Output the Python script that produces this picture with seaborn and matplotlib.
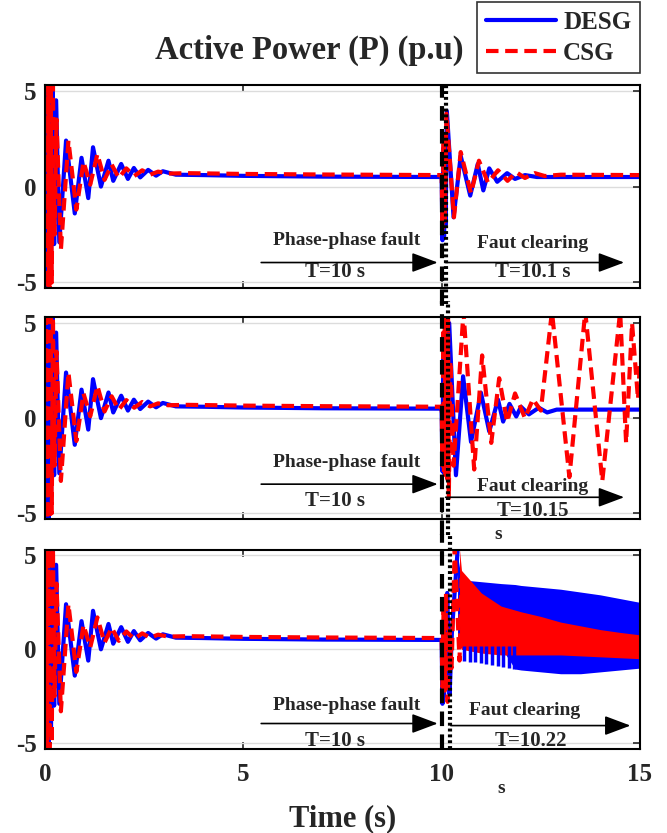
import numpy as np
import pandas as pd
import matplotlib
matplotlib.use('Agg')
import matplotlib.pyplot as plt
import seaborn as sns

# ---- data (time in s, active power in p.u) ----
# start-up transient, identical in all three cases
pre_desg_t = [0.0, 0.03, 0.06, 0.09, 0.12, 0.15, 0.19, 0.23, 0.28, 0.36, 0.53, 0.75, 0.92, 1.09, 1.21,
              1.41, 1.6, 1.72, 1.92, 2.09, 2.24, 2.4, 2.6, 2.8, 2.97, 3.3, 4.0, 5.0, 7.0, 10.0]
pre_desg_p = [0.0, -5.3, 5.3, -5.3, 5.3, -4.5, 5.3, -3.0, 4.5, -2.9, 2.4, -1.4, 1.5, -0.6, 2.05,
              0.0, 1.35, 0.3, 1.18, 0.4, 0.97, 0.48, 0.87, 0.57, 0.8, 0.62, 0.6, 0.56, 0.52, 0.5]
pre_csg_t = [0.0, 0.02, 0.05, 0.08, 0.11, 0.14, 0.17, 0.2, 0.24, 0.29, 0.4, 0.59, 0.79, 0.97, 1.14,
             1.32, 1.5, 1.68, 1.86, 2.05, 2.25, 2.45, 2.65, 2.85, 3.1, 3.6, 5.0, 7.0, 10.0]
pre_csg_p = [0.0, 5.3, -5.3, 5.3, -5.3, 5.3, -5.0, 5.3, -2.5, 3.5, -3.3, 2.4, -1.2, 1.3, 0.1,
             1.7, 0.35, 1.15, 0.45, 0.95, 0.55, 0.85, 0.62, 0.78, 0.68, 0.7, 0.66, 0.63, 0.6]

# case 1: clearing at 10.1 s
c1_desg_t = [10.0, 10.02, 10.04, 10.06, 10.08, 10.1, 10.13, 10.3, 10.48, 10.72, 10.91, 11.05, 11.2,
             11.4, 11.65, 11.85, 12.1, 12.4, 13.0, 15.0]
c1_desg_p = [0.5, -2.8, 2.0, -2.6, 2.5, -2.0, 3.95, -1.6, 1.6, -0.47, 1.18, -0.2, 0.95,
             0.25, 0.7, 0.4, 0.6, 0.5, 0.5, 0.5]
c1_csg_t = [10.0, 10.02, 10.05, 10.08, 10.12, 10.31, 10.48, 10.74, 10.94, 11.17, 11.42, 11.66, 11.88,
            12.1, 12.35, 12.6, 13.0, 15.0]
c1_csg_p = [0.6, -2.2, 2.5, -1.8, 3.8, -1.6, 1.8, -0.35, 1.35, 0.2, 0.85, 0.3, 0.75,
            0.45, 0.7, 0.55, 0.62, 0.6]

# case 2: clearing at 10.15 s
c2_desg_t = [10.0, 10.02, 10.04, 10.06, 10.08, 10.1, 10.12, 10.15, 10.19, 10.36, 10.54, 10.74, 10.99,
             11.2, 11.42, 11.55, 11.71, 11.88, 12.0, 12.2, 12.45, 12.66, 12.9, 15.0]
c2_desg_p = [0.45, -2.8, 3.5, -2.9, 4.5, -2.5, 5.2, -2.0, 5.0, -3.0, 2.2, -1.25, 1.34,
             -0.7, 0.98, -0.18, 0.75, 0.09, 0.6, 0.2, 0.55, 0.3, 0.45, 0.45]
c2_csg_t = [10.0, 10.02, 10.04, 10.06, 10.08, 10.1, 10.12, 10.14, 10.16, 10.18, 10.22, 10.3, 10.55,
            10.82, 11.02, 11.25, 11.45, 11.65, 11.85, 12.1, 12.3, 12.5, 12.78, 13.22, 13.62, 14.05,
            14.5, 14.65, 14.8, 14.95, 15.0]
c2_csg_p = [0.6, -2.5, 4.5, -3.0, 5.3, -3.0, 5.5, -3.2, 5.5, -4.2, 3.0, -2.5, 5.6,
            -2.7, 3.3, -1.3, 2.1, -0.2, 1.3, 0.0, 1.0, 0.4, 5.6, -3.1, 5.6, -3.3,
            5.6, -1.3, 5.0, 1.0, 3.0]

# case 3: clearing at 10.22 s (sustained oscillation -> envelopes)
c3_desg_t = [10.0, 10.02, 10.04, 10.06, 10.08, 10.1, 10.14, 10.2, 10.26, 10.4]
c3_desg_p = [0.5, -2.9, 1.5, -2.5, 2.5, -2.0, 3.0, -2.4, 1.0, 5.2]
c3_csg_t = [10.0, 10.02, 10.05, 10.08, 10.11, 10.15, 10.2, 10.25, 10.33, 10.45, 10.5]
c3_csg_p = [0.6, -2.0, 2.5, -2.2, 3.0, -2.8, 1.0, -1.0, 5.4, -0.6, 3.8]
band_t = [10.4, 10.5, 11.0, 11.5, 11.85, 12.0, 12.5, 13.0, 13.5, 14.0, 14.5, 15.0]
desg_hi = [5.0, 3.7, 3.6, 3.5, 3.45, 3.4, 3.3, 3.2, 3.05, 2.9, 2.7, 2.5]
desg_lo = [0.3, 0.2, 0.15, 0.1, -1.05, -1.1, -1.2, -1.3, -1.3, -1.2, -1.1, -1.0]
teeth_t = [10.57, 10.71, 10.85, 10.99, 11.13, 11.27, 11.41, 11.55, 11.69, 11.83]
teeth_p = [-0.6, -0.65, -0.7, -0.75, -0.8, -0.85, -0.9, -0.95, -1.0, -1.05]
csg_band_t = [10.45, 10.5, 11.0, 11.5, 12.0, 12.5, 13.0, 13.5, 14.0, 14.5, 15.0]
csg_hi = [5.3, 4.2, 3.0, 2.3, 2.0, 1.75, 1.45, 1.25, 1.05, 0.9, 0.77]
csg_lo = [0.2, 0.0, -0.2, -0.3, -0.3, -0.3, -0.3, -0.35, -0.4, -0.45, -0.5]

clear_times = [10.12, 10.17, 10.2]
clear_labels = ['T=10.1 s', 'T=10.15', 'T=10.22']

sns.set_style('white')
plt.rcParams['font.family'] = ['Liberation Serif', 'DejaVu Serif']
plt.rcParams['font.weight'] = 'bold'
plt.rcParams['axes.unicode_minus'] = False

BLUE = '#0000ff'
RED = '#ff0000'
RED_DASH = (0, (3, 1.6))

fig = plt.figure(figsize=(6.67, 8.33), dpi=100)
boxes = [[0.0675, 0.654, 0.892, 0.244], [0.0675, 0.377, 0.892, 0.242], [0.0675, 0.101, 0.892, 0.239]]
axes = [fig.add_axes(b) for b in boxes]


def line(ax, t, p, desg, label=None):
    if desg:
        sns.lineplot(x=t, y=p, ax=ax, color=BLUE, lw=3, estimator=None, sort=False, label=label)
    else:
        sns.lineplot(x=t, y=p, ax=ax, color=RED, lw=3, linestyle=RED_DASH, estimator=None,
                     sort=False, label=label)


cases = [(c1_desg_t, c1_desg_p, c1_csg_t, c1_csg_p),
         (c2_desg_t, c2_desg_p, c2_csg_t, c2_csg_p),
         (c3_desg_t, c3_desg_p, c3_csg_t, c3_csg_p)]

for i, ax in enumerate(axes):
    dt, dp, ct, cp = cases[i]
    line(ax, pre_desg_t + dt, pre_desg_p + dp, True, 'DESG' if i == 0 else None)
    if i == 2:
        ax.fill_between(band_t, desg_lo, desg_hi, color=BLUE, lw=0)
        ax.vlines(teeth_t, 0.2, teeth_p, color=BLUE, lw=2.5)
    line(ax, pre_csg_t + ct, pre_csg_p + cp, False, 'CSG' if i == 0 else None)
    if i == 2:
        ax.fill_between(csg_band_t, csg_lo, csg_hi, color=RED, lw=0)
    if ax.get_legend():
        ax.get_legend().remove()

    ax.set_xlim(0, 15)
    ax.set_ylim(-5.3, 5.3)
    ax.set_yticks([-5, 0, 5])
    ax.set_xticks([0, 5, 10, 15])
    ax.yaxis.grid(True, color='#dcdcdc', lw=1)
    ax.xaxis.grid(False)
    ax.tick_params(direction='in', length=5, width=1.2, labelsize=18, top=True, right=True,
                   left=True, bottom=True, pad=6)
    ax.tick_params(axis='x', pad=10)
    for s in ax.spines.values():
        s.set_color('black')
        s.set_linewidth(1.5)
    if i < 2:
        ax.set_xticklabels([])

    ymin = 0.0 if i == 2 else -0.08
    ymax = 1.0 if i == 0 else 1.08
    ax.axvline(10, ymin=ymin, ymax=ymax, color='black', lw=3, ls=(0, (3.5, 2)), clip_on=False, zorder=5)
    ax.axvline(clear_times[i], ymin=ymin, ymax=ymax, color='black', lw=3, ls=(0, (0.7, 0.7)),
               clip_on=False, zorder=5)

# annotations (text y, arrow y, value y) per panel
ann = [(-2.8, -3.96, -4.48, -2.97, -3.96, -4.48),
       (-2.34, -3.47, -4.38, -3.57, -4.16, -4.86),
       (-2.99, -3.95, -4.86, -3.25, -4.06, -4.9)]
arrow_kw = dict(arrowstyle='-|>,head_length=0.8,head_width=0.3', color='black', lw=1.2,
                mutation_scale=20, shrinkA=0, shrinkB=0)
for i, ax in enumerate(axes):
    fy, fa, fv, cy, ca, cv = ann[i]
    ax.text(7.6, fy, 'Phase-phase fault', ha='center', va='center', fontsize=14, fontweight='bold', zorder=6)
    ax.annotate('', xy=(9.9, fa), xytext=(5.45, fa), arrowprops=arrow_kw, zorder=6)
    ax.text(7.3, fv, 'T=10 s', ha='center', va='center', fontsize=15, fontweight='bold', zorder=6)
    cx = 12.3 if i < 2 else 12.1
    ax.text(cx, cy, 'Faut clearing', ha='center', va='center', fontsize=14, fontweight='bold', zorder=6)
    ax.annotate('', xy=(14.6 if i < 2 else 14.76, ca), xytext=(10.1 if i < 2 else 10.23, ca),
                arrowprops=arrow_kw, zorder=6)
    ax.text(12.3 if i < 2 else 12.25, cv, clear_labels[i], ha='center', va='center', fontsize=15,
            fontweight='bold', zorder=6)
axes[1].text(11.42, -6.1, 's', ha='center', va='center', fontsize=14, fontweight='bold')
axes[2].text(11.5, -7.4, 's', ha='center', va='center', fontsize=14, fontweight='bold')

axes[2].set_xlabel('Time (s)', fontsize=22, fontweight='bold', labelpad=13)
fig.text(0.463, 0.94, 'Active Power (P) (p.u)', ha='center', va='center', fontsize=23.5, fontweight='bold')

h, l = axes[0].get_legend_handles_labels()
leg = fig.legend(h, l, loc='upper right', bbox_to_anchor=(0.9595, 0.997), fontsize=18, frameon=True,
                 fancybox=False, edgecolor='black', handlelength=2.8, borderpad=0.35,
                 labelspacing=0.3, handletextpad=0.3, borderaxespad=0.0)
leg.get_frame().set_linewidth(1.2)
for t in leg.get_texts():
    t.set_fontweight('bold')

fig.savefig('out.png', dpi=100)
